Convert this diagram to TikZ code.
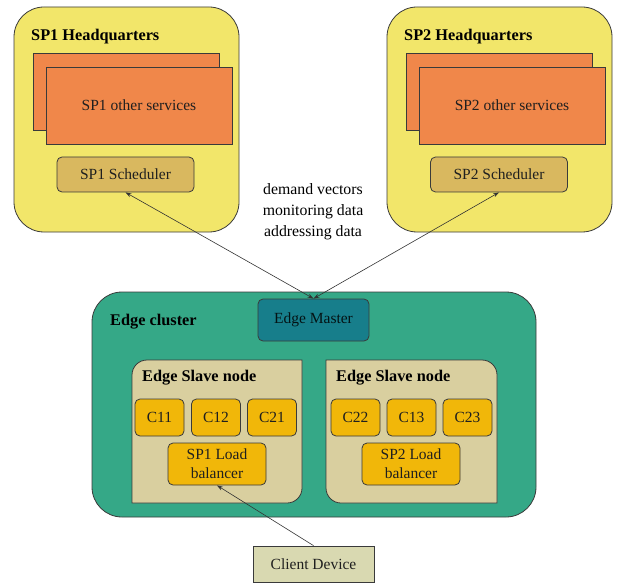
\documentclass[tikz,border=0pt]{standalone}
\usepackage{fontspec}
\setmainfont{Liberation Serif}
\usetikzlibrary{arrows.meta}
\definecolor{hqyellow}{HTML}{F2E66A}
\definecolor{svcorange}{HTML}{F0874A}
\definecolor{schedcol}{HTML}{D9B85F}
\definecolor{clustercol}{HTML}{35A887}
\definecolor{mastercol}{HTML}{177E8B}
\definecolor{slavecol}{HTML}{D9CF9F}
\definecolor{ccol}{HTML}{F1B709}
\definecolor{clientcol}{HTML}{D9D9B1}
\definecolor{edgeline}{HTML}{3A3A3A}
\tikzset{
  base/.style={draw=edgeline, line width=0.8pt, inner sep=0pt, align=center, font=\fontsize{15.5}{20}\selectfont, text=black!88},
  hqbox/.style={base, fill=hqyellow, rounded corners=30pt},
  svcbox/.style={base, fill=svcorange},
  schedbox/.style={base, fill=schedcol, rounded corners=5pt, minimum width=137pt, minimum height=35pt},
  clusterbox/.style={base, fill=clustercol, rounded corners=30pt},
  masterbox/.style={base, fill=mastercol, rounded corners=5pt, minimum width=111pt, minimum height=42pt, text=black!85!mastercol},
  cbox/.style={base, fill=ccol, rounded corners=5pt, minimum width=49pt, minimum height=37pt},
  lbbox/.style={base, fill=ccol, rounded corners=5pt, minimum width=98pt, minimum height=42pt, font=\fontsize{15.5}{19}\selectfont},
  clientbox/.style={base, fill=clientcol, minimum width=121pt, minimum height=36pt},
  slaveshape/.style={draw=edgeline, line width=0.8pt, fill=slavecol},
  titletext/.style={font=\fontsize{16.3}{20}\selectfont\bfseries, inner sep=0pt, anchor=west},
  plaintext/.style={font=\fontsize{15.8}{21}\selectfont, inner sep=0pt, align=center},
  link/.style={draw=black!80, line width=0.6pt, -{Stealth[length=6pt,width=4pt]}},
  dlink/.style={draw=black!80, line width=0.6pt, {Stealth[length=6pt,width=4pt]}-{Stealth[length=6pt,width=4pt]}}
}
\begin{document}
\begin{tikzpicture}[x=1pt,y=-1pt]
\useasboundingbox (0,0) rectangle (628,585);
% SP1 HQ
\node[hqbox, minimum width=225pt, minimum height=225pt] (hq1) at (126.5,119.5) {};
\node[titletext] (t1) at (31,37) {SP1 Headquarters};
\node[svcbox, minimum width=186pt, minimum height=77pt] (back1) at (126,91.5) {};
\node[svcbox, minimum width=186pt, minimum height=77pt] (svc1) at (139,105.5) {SP1 other services};
\node[schedbox] (sched1) at (125.5,174.5) {SP1 Scheduler};
% SP2 HQ
\node[hqbox, minimum width=225pt, minimum height=225pt] (hq2) at (499.5,119.5) {};
\node[titletext] (t2) at (404,37) {SP2 Headquarters};
\node[svcbox, minimum width=186pt, minimum height=77pt] (back2) at (499,91.5) {};
\node[svcbox, minimum width=186pt, minimum height=77pt] (svc2) at (512,105.5) {SP2 other services};
\node[schedbox] (sched2) at (499,174.5) {SP2 Scheduler};
% label
\node[plaintext] (lbl) at (313,212) {demand vectors\\monitoring data\\addressing data};
% Edge cluster
\node[clusterbox, minimum width=444pt, minimum height=225pt] (cluster) at (314,404.5) {};
\node[titletext] (tc) at (110,322) {Edge cluster};
\node[masterbox] (master) at (313.5,320) {Edge Master};
% slave nodes
\path[slaveshape] (132,503) -- (132,375) .. controls (132,366.7) and (138.7,360) .. (147,360) -- (302,360) -- (302,488) .. controls (302,496.3) and (295.3,503) .. (287,503) -- cycle;
\path[slaveshape] (326,360) -- (482,360) .. controls (490.3,360) and (497,366.7) .. (497,375) -- (497,503) -- (341,503) .. controls (332.7,503) and (326,496.3) .. (326,488) -- cycle;
\node[titletext] (ts1) at (142,378) {Edge Slave node};
\node[titletext] (ts2) at (336,378) {Edge Slave node};
\node[cbox] (c11) at (159.5,417.5) {C11};
\node[cbox] (c12) at (216,417.5) {C12};
\node[cbox] (c21) at (272,417.5) {C21};
\node[cbox] (c22) at (355.5,417.5) {C22};
\node[cbox] (c13) at (411.5,417.5) {C13};
\node[cbox] (c23) at (467.5,417.5) {C23};
\node[lbbox] (lb1) at (217,464) {SP1 Load\\balancer};
\node[lbbox] (lb2) at (411,464) {SP2 Load\\balancer};
% client
\node[clientbox] (client) at (313.5,564) {Client Device};
% connectors
\draw[dlink] (sched1.south) -- (master.north);
\draw[dlink] (sched2.south) -- (master.north);
\draw[link] (client.north) -- (lb1.south);
\end{tikzpicture}
\end{document}
